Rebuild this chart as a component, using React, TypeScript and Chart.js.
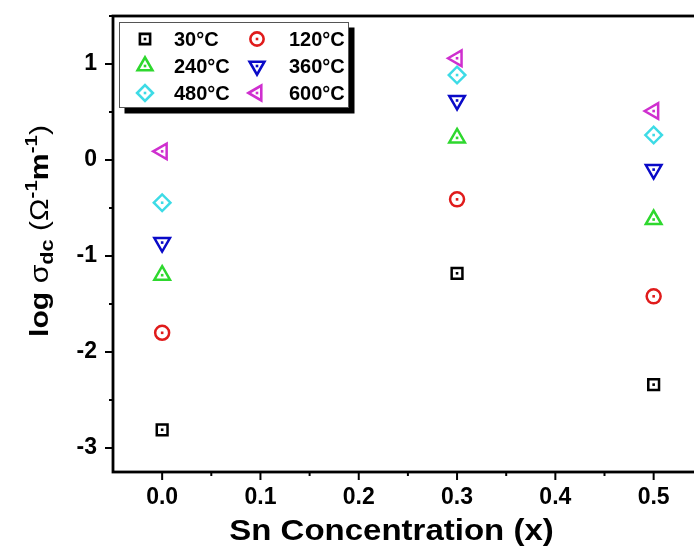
import React, { useEffect, useRef } from 'react';
import { Chart, registerables } from 'chart.js';
import { drawPoint } from 'chart.js/helpers';

Chart.register(...registerables);

// ---- data ----
const xValues = [0.0, 0.3, 0.5];
const sigma30 = [-2.81, -1.18, -2.34];
const sigma120 = [-1.8, -0.41, -1.42];
const sigma240 = [-1.2, 0.23, -0.62];
const sigma360 = [-0.86, 0.62, -0.1];
const sigma480 = [-0.445, 0.885, 0.26];
const sigma600 = [0.09, 1.06, 0.51];
const seriesLabels = ['30°C', '120°C', '240°C', '360°C', '480°C', '600°C'];

const FONT = '"Liberation Sans", Arial, Helvetica, sans-serif';

const seriesStyle = [
  { color: '#000000', pointStyle: 'rect', rotation: 0, radius: 7.6 },
  { color: '#e01b1b', pointStyle: 'circle', rotation: 0, radius: 7 },
  { color: '#2ed82e', pointStyle: 'triangle', rotation: 0, radius: 9 },
  { color: '#0a0ac8', pointStyle: 'triangle', rotation: 180, radius: 9 },
  { color: '#3ddbe6', pointStyle: 'rectRot', rotation: 0, radius: 8.3 },
  { color: '#cf2fcf', pointStyle: 'triangle', rotation: 270, radius: 9 },
];

const seriesValues = [sigma30, sigma120, sigma240, sigma360, sigma480, sigma600];

const isMultiple = (v: number, step: number) => Math.abs(v / step - Math.round(v / step)) < 1e-6;

const framePlugin = {
  id: 'frameAndTicks',
  afterDraw(chart: any) {
    const ctx = chart.ctx as CanvasRenderingContext2D;
    const { left, right, top, bottom } = chart.chartArea;
    ctx.save();
    ctx.strokeStyle = '#000';
    ctx.lineWidth = 2;
    const xs = chart.scales.x;
    xs.ticks.forEach((t: any) => {
      if (t.value < xs.min + 1e-9) return;
      const p = xs.getPixelForValue(t.value);
      const len = isMultiple(t.value, 0.1) ? 8 : 4;
      ctx.beginPath();
      ctx.moveTo(p, bottom);
      ctx.lineTo(p, bottom + len);
      ctx.stroke();
    });
    const ys = chart.scales.y;
    ys.ticks.forEach((t: any) => {
      if (t.value < ys.min + 1e-9) return;
      const p = ys.getPixelForValue(t.value);
      const len = isMultiple(t.value, 1) ? 8 : 4;
      ctx.beginPath();
      ctx.moveTo(left, p);
      ctx.lineTo(left - len, p);
      ctx.stroke();
    });
    ctx.lineWidth = 2.8;
    ctx.strokeRect(left, top, right - left, bottom - top);

    // x title
    ctx.fillStyle = '#000';
    ctx.font = `bold 30px ${FONT}`;
    ctx.textAlign = 'center';
    ctx.textBaseline = 'alphabetic';
    ctx.save();
    ctx.translate(391.5, 540);
    ctx.scale(1.1, 1);
    ctx.fillText('Sn Concentration (x)', 0, 0);
    ctx.restore();

    // y title (rotated, rich text)
    const segs = [
      { t: 'log ', f: `bold 25px ${FONT}`, dy: 0 },
      { t: 'σ', f: `25px ${FONT}`, dy: 0 },
      { t: 'dc', f: `bold 18px ${FONT}`, dy: 5 },
      { t: ' (', f: `25px ${FONT}`, dy: 0 },
      { t: 'Ω', f: `25px ${FONT}`, dy: 0 },
      { t: '-1', f: `bold 17px ${FONT}`, dy: -11 },
      { t: 'm', f: `bold 25px ${FONT}`, dy: 0 },
      { t: '-1', f: `bold 17px ${FONT}`, dy: -11 },
      { t: ')', f: `25px ${FONT}`, dy: 0 },
    ];
    ctx.textAlign = 'left';
    let total = 0;
    segs.forEach((s) => {
      ctx.font = s.f;
      total += ctx.measureText(s.t).width;
    });
    const targetLen = 212;
    const sx = targetLen / total;
    ctx.save();
    ctx.translate(48, 337);
    ctx.rotate(-Math.PI / 2);
    ctx.scale(sx, 1);
    let cx = 0;
    segs.forEach((s) => {
      ctx.font = s.f;
      ctx.fillText(s.t, cx, s.dy);
      cx += ctx.measureText(s.t).width;
    });
    ctx.restore();

    // legend
    const bx = 119, by = 22, bw = 230, bh = 86, sh = 5.5;
    ctx.fillStyle = '#000';
    ctx.fillRect(bx + sh, by + sh, bw, bh);
    ctx.fillStyle = '#fff';
    ctx.fillRect(bx, by, bw, bh);
    ctx.strokeStyle = '#555';
    ctx.lineWidth = 1;
    ctx.strokeRect(bx + 0.5, by + 0.5, bw - 1, bh - 1);
    const rows = [39, 66, 93];
    const markerX = [145, 257];
    const textX = [174, 289];
    chart.data.datasets.forEach((ds: any, i: number) => {
      const col = i % 2;
      const row = Math.floor(i / 2);
      const st = seriesStyle[i];
      const mx = markerX[col];
      const my = rows[row];
      ctx.strokeStyle = st.color;
      ctx.fillStyle = 'rgba(0,0,0,0)';
      ctx.lineWidth = 2.6;
      drawPoint(ctx, { pointStyle: st.pointStyle, rotation: st.rotation, radius: st.radius * 0.95, borderWidth: 2.6 } as any, mx, my);
      ctx.fillStyle = st.color;
      ctx.fillRect(mx - 1.3, my - 1.3, 2.6, 2.6);
      ctx.fillStyle = '#000';
      ctx.font = `bold 20px ${FONT}`;
      ctx.textBaseline = 'middle';
      ctx.fillText(ds.label, textX[col], my + 1);
    });
    ctx.restore();
  },
};

const dotPlugin = {
  id: 'centerDots',
  afterDatasetsDraw(chart: any) {
    const ctx = chart.ctx as CanvasRenderingContext2D;
    ctx.save();
    chart.data.datasets.forEach((ds: any, i: number) => {
      const meta = chart.getDatasetMeta(i);
      ctx.fillStyle = ds.borderColor;
      meta.data.forEach((pt: any) => {
        ctx.fillRect(pt.x - 1.3, pt.y - 1.3, 2.6, 2.6);
      });
    });
    ctx.restore();
  },
};

export default function App() {
  const ref = useRef<HTMLCanvasElement | null>(null);
  useEffect(() => {
    if (!ref.current) return;
    const chart = new Chart(ref.current, {
      type: 'scatter',
      data: {
        datasets: seriesValues.map((vals, i) => ({
          label: seriesLabels[i],
          data: xValues.map((x, j) => ({ x, y: vals[j] })),
          borderColor: seriesStyle[i].color,
          backgroundColor: 'rgba(0,0,0,0)',
          pointStyle: seriesStyle[i].pointStyle as any,
          pointRotation: seriesStyle[i].rotation,
          pointRadius: seriesStyle[i].radius,
          pointBorderWidth: 2.5,
          showLine: false,
        })),
      },
      options: {
        animation: false,
        responsive: false,
        layout: { padding: { top: 16, right: 17.2, left: 0, bottom: 0 } },
        plugins: { legend: { display: false }, tooltip: { enabled: false } },
        scales: {
          x: {
            type: 'linear',
            min: -0.05,
            max: 0.55,
            grid: { display: false, drawTicks: false },
            border: { display: false },
            afterFit: (s: any) => {
              s.height = 76;
              s.paddingLeft = 0;
              s.paddingRight = 0;
            },
            ticks: {
              stepSize: 0.05,
              includeBounds: false,
              autoSkip: false,
              maxRotation: 0,
              padding: 12,
              color: '#000',
              font: { family: FONT, size: 23, weight: 'bold' },
              callback: (v: any) => (isMultiple(Number(v), 0.1) && Number(v) >= -1e-9 ? Number(v).toFixed(1) : ''),
            },
          },
          y: {
            type: 'linear',
            min: -3.25,
            max: 1.5,
            grid: { display: false, drawTicks: false },
            border: { display: false },
            afterFit: (s: any) => {
              s.width = 113;
              s.paddingTop = 0;
              s.paddingBottom = 0;
            },
            ticks: {
              stepSize: 0.5,
              includeBounds: false,
              autoSkip: false,
              padding: 16,
              color: '#000',
              font: { family: FONT, size: 23, weight: 'bold' },
              callback: (v: any) => (isMultiple(Number(v), 1) ? String(Math.round(Number(v))) : ''),
            },
          },
        },
      },
      plugins: [dotPlugin, framePlugin],
    } as any);
    return () => chart.destroy();
  }, []);
  return (
    <div style={{ position: 'fixed', left: 0, top: 0, width: 694, height: 548, overflow: 'hidden', background: '#fff' }}>
      <canvas ref={ref} width={720} height={548} style={{ display: 'block' }} />
    </div>
  );
}
